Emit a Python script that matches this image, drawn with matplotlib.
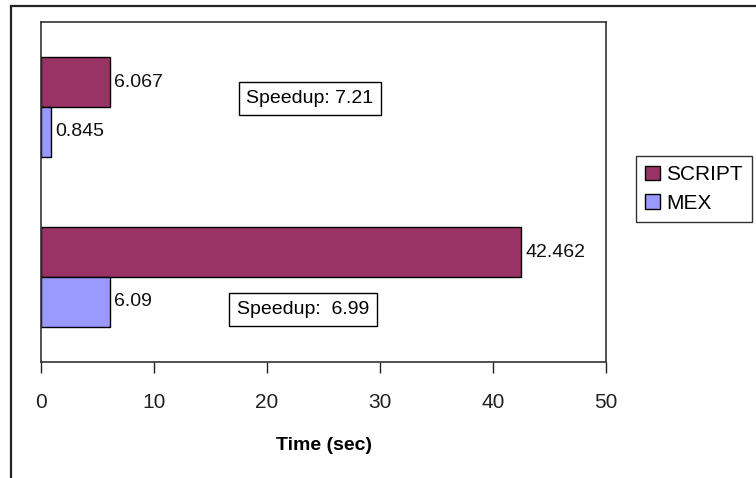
import matplotlib.pyplot as plt
from matplotlib.patches import Rectangle

# timings in seconds, bottom group first
groups = ["large", "small"]
script_times = [42.462, 6.067]
mex_times = [6.09, 0.845]
speedup_text = ["Speedup:  6.99", "Speedup: 7.21"]
x_ticks = [0, 10, 20, 30, 40, 50]

plt.rcParams["font.family"] = ["Liberation Sans", "DejaVu Sans"]

fig = plt.figure(figsize=(7.56, 4.78), dpi=100)
W, H = 756, 478

# chart frame, runs off the right and bottom edges
fig.patches.append(Rectangle((11 / W, -0.05), 1.0, 1 - 6 / H + 0.05,
                             transform=fig.transFigure, fill=False,
                             edgecolor="#222222", linewidth=1.6))

ax = fig.add_axes([41 / W, 116 / H, 565 / W, 340 / H])

h = 0.294
ypos = list(range(len(groups)))
b1 = ax.barh([y + h / 2 for y in ypos], script_times, height=h,
             color="#993366", edgecolor="black", linewidth=1, label="SCRIPT")
b2 = ax.barh([y - h / 2 for y in ypos], mex_times, height=h,
             color="#9999FF", edgecolor="black", linewidth=1, label="MEX")

for bars, vals in ((b1, script_times), (b2, mex_times)):
    for bar, v in zip(bars, vals):
        ax.text(v + 0.4, bar.get_y() + bar.get_height() / 2, f"{v:g}",
                va="center", ha="left", fontsize=14, color="#111111")

# speedup notes
ax.text(23.2, -0.19, speedup_text[0], ha="center", va="center", fontsize=14,
        bbox=dict(boxstyle="square,pad=0.4", fc="white", ec="black", lw=1))
ax.text(23.8, 1.05, speedup_text[1], ha="center", va="center", fontsize=14,
        bbox=dict(boxstyle="square,pad=0.4", fc="white", ec="black", lw=1))

ax.set_xlim(0, 50)
ax.set_ylim(-0.5, 1.5)
ax.set_xticks(x_ticks)
ax.set_xticklabels([str(t) for t in x_ticks], fontsize=15)
ax.set_yticks([])
ax.tick_params(axis="x", direction="out", length=8, width=1, pad=14,
               colors="#222222")
for s in ax.spines.values():
    s.set_linewidth(1.2)
    s.set_color("#333333")
ax.set_xlabel("Time (sec)", fontsize=14, fontweight="bold", labelpad=18)

leg = fig.legend(handles=[b1, b2], loc="upper left",
                 bbox_to_anchor=(636 / W, 1 - 156 / H), fontsize=15,
                 frameon=True, fancybox=False, edgecolor="black",
                 handlelength=0.7, handleheight=0.7, handletextpad=0.3,
                 borderpad=0.45, labelspacing=0.45, borderaxespad=0)
leg.get_frame().set_linewidth(1)

fig.savefig("out.png", dpi=100)
